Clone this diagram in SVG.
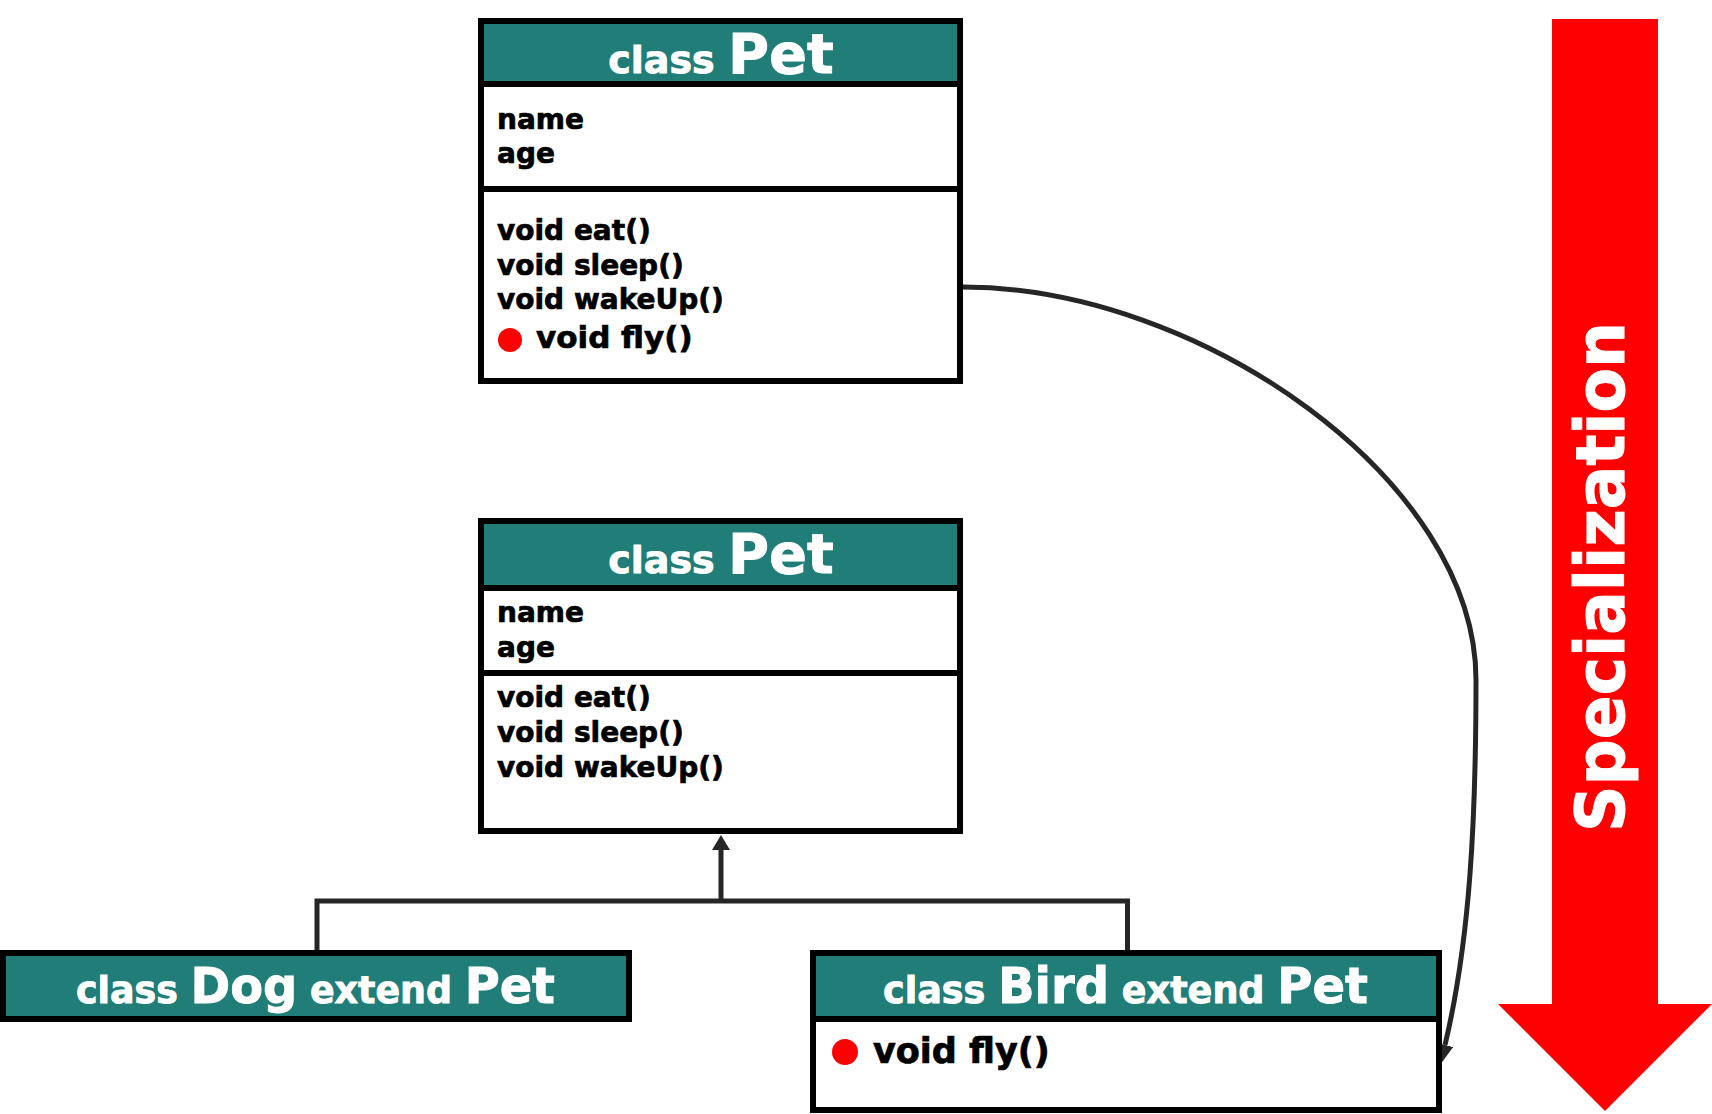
<svg xmlns="http://www.w3.org/2000/svg" width="1712" height="1114" viewBox="0 0 1712 1114">
<style>
.box{fill:#ffffff;stroke:#000000;stroke-width:6}
.hdr{fill:#217D77}
.div{stroke:#000000;stroke-width:6}
.title{font-family:"DejaVu Sans","Liberation Sans",sans-serif;font-weight:bold;fill:#ffffff;stroke:#ffffff;stroke-width:0.9}
.sm{font-size:38px}
.lg{font-size:56px}
.mem{font-family:"DejaVu Sans","Liberation Sans",sans-serif;font-weight:bold;font-size:28px;fill:#000000;stroke:#000000;stroke-width:0.7}
.conn{fill:none;stroke:#262626;stroke-width:5}
.dot{fill:#FF0000}
</style>
<defs>
<marker id="tri" markerUnits="userSpaceOnUse" viewBox="0 0 15 18" refX="0" refY="9" markerWidth="15" markerHeight="18" orient="auto">
<path d="M0,0 L15,9 L0,18 Z" fill="#262626"/>
</marker>
<marker id="tri2" markerUnits="userSpaceOnUse" viewBox="0 0 20 17" refX="0" refY="8.5" markerWidth="20" markerHeight="17" orient="auto">
<path d="M0,0 L20,8.5 L0,17 Z" fill="#262626"/>
</marker>
</defs>
<rect width="1712" height="1114" fill="#ffffff"/>

<g id="specialization-arrow">
<path d="M1552,19 L1658,19 L1658,1004 L1712,1004 L1605,1111 L1498,1004 L1552,1004 Z" fill="#FF0000"/>
<text transform="translate(1624,577) rotate(-90)" text-anchor="middle" font-family="DejaVu Sans, Liberation Sans, sans-serif" font-weight="bold" font-size="68" fill="#ffffff" stroke="#ffffff" stroke-width="1" textLength="510" lengthAdjust="spacingAndGlyphs">Specialization</text>
</g>

<g id="connectors">
<path class="conn" d="M963,287 C1200,287 1476,480 1476,680 C1476,820 1470,940 1445,1045" stroke-width="4" marker-end="url(#tri2)"/>
<path class="conn" d="M317,953 L317,901 L1127.5,901 L1127.5,953"/>
<path class="conn" d="M721,901 L721,850" marker-end="url(#tri)"/>
</g>

<g id="pet-top">
<rect class="box" x="481" y="21" width="479" height="360"/>
<rect class="hdr" x="484" y="24" width="473" height="60"/>
<line class="div" x1="481" y1="84" x2="960" y2="84"/>
<line class="div" x1="481" y1="189" x2="960" y2="189"/>
<text class="title" x="721" y="73" text-anchor="middle"><tspan class="sm">class </tspan><tspan class="lg">Pet</tspan></text>
<text class="mem" x="497" y="129">name</text>
<text class="mem" x="497" y="163">age</text>
<text class="mem" x="497" y="240">void eat()</text>
<text class="mem" x="497" y="275">void sleep()</text>
<text class="mem" x="497" y="309">void wakeUp()</text>
<circle class="dot" cx="510" cy="340" r="12"/>
<text class="mem" x="536" y="348" style="font-size:31px">void fly()</text>
</g>

<g id="pet-middle">
<rect class="box" x="481" y="521" width="479" height="310"/>
<rect class="hdr" x="484" y="524" width="473" height="64"/>
<line class="div" x1="481" y1="588" x2="960" y2="588"/>
<line class="div" x1="481" y1="673" x2="960" y2="673"/>
<text class="title" x="721" y="573" text-anchor="middle"><tspan class="sm">class </tspan><tspan class="lg">Pet</tspan></text>
<text class="mem" x="497" y="622">name</text>
<text class="mem" x="497" y="657">age</text>
<text class="mem" x="497" y="707">void eat()</text>
<text class="mem" x="497" y="742">void sleep()</text>
<text class="mem" x="497" y="777">void wakeUp()</text>
</g>

<g id="dog">
<rect class="box" x="3" y="953" width="626" height="66" style="fill:#217D77"/>
<text class="title" x="76" y="1003" textLength="479" lengthAdjust="spacingAndGlyphs"><tspan class="sm">class </tspan><tspan style="font-size:50px">Dog</tspan><tspan class="sm"> extend </tspan><tspan style="font-size:50px">Pet</tspan></text>
</g>

<g id="bird">
<rect class="box" x="813" y="953" width="626" height="157"/>
<rect class="hdr" x="816" y="956" width="620" height="63"/>
<line class="div" x1="813" y1="1019" x2="1439" y2="1019"/>
<text class="title" x="883" y="1003" textLength="485" lengthAdjust="spacingAndGlyphs"><tspan class="sm">class </tspan><tspan style="font-size:50px">Bird</tspan><tspan class="sm"> extend </tspan><tspan style="font-size:50px">Pet</tspan></text>
<circle class="dot" cx="845" cy="1052" r="13"/>
<text class="mem" x="873" y="1063" style="font-size:35px">void fly()</text>
</g>
</svg>
